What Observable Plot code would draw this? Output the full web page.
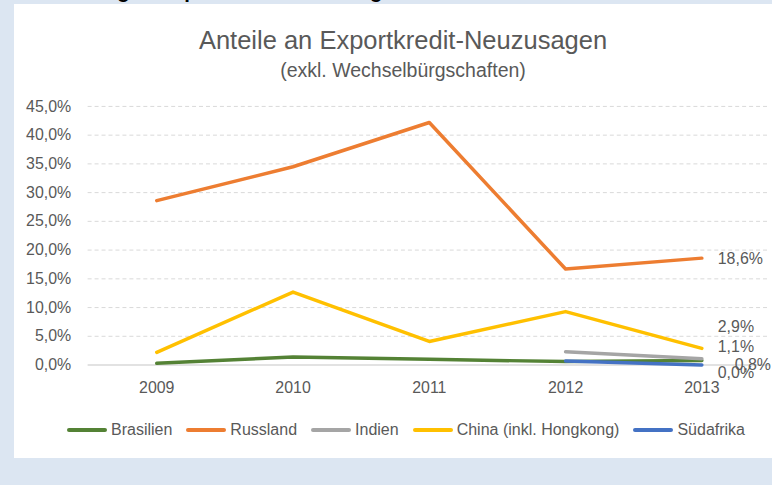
<!DOCTYPE html>
<html>
<head>
<meta charset="utf-8">
<script src="https://cdn.jsdelivr.net/npm/d3@7"></script>
<script src="https://cdn.jsdelivr.net/npm/@observablehq/plot@0.6"></script>
<style>
  html, body { margin: 0; padding: 0; }
  body { width: 772px; height: 485px; overflow: hidden; background: #dce6f2; position: relative; font-family: "Liberation Sans", Arial, sans-serif; }
  #toptext { position: absolute; left: 29px; top: -20px; font-size: 20.4px; font-weight: bold; color: #000; white-space: nowrap; line-height: 22px; }
  #panel { position: absolute; left: 14px; top: 4px; width: 800px; height: 454px; background: #fff; }
  .title { position: absolute; left: 0; width: 806px; text-align: center; color: #595959; white-space: nowrap; }
  #t1 { top: 25px; font-size: 25.5px; line-height: 30px; }
  #t2 { top: 58px; font-size: 19.5px; line-height: 24px; }
  #chart { position: absolute; left: 14px; top: 90px; }
  #legend { position: absolute; left: 67px; top: 420px; display: flex; align-items: center; font-size: 16px; color: #595959; line-height: 20px; white-space: nowrap; }
  .item { display: flex; align-items: center; margin-right: 14px; }
  .sw { width: 40px; height: 4px; border-radius: 2px; margin-right: 4px; }
</style>
</head>
<body>
<div id="toptext">Abbildung 1: Exportkredit-Neuzusagen</div>
<div id="panel"></div>
<div class="title" id="t1">Anteile an Exportkredit-Neuzusagen</div>
<div class="title" id="t2">(exkl. Wechselbürgschaften)</div>
<div id="chart"></div>
<div id="legend"></div>
<script>
const years = ["2009", "2010", "2011", "2012", "2013"];
const brasilien = [0.3, 1.4, 1.0, 0.6, 0.8];
const russland = [28.6, 34.5, 42.2, 16.7, 18.6];
const indien = [null, null, null, 2.3, 1.1];
const china = [2.2, 12.7, 4.1, 9.3, 2.9];
const suedafrika = [null, null, null, 0.7, 0.0];
const seriesNames = ["Brasilien", "Russland", "Indien", "China (inkl. Hongkong)", "Südafrika"];
const seriesValues = [brasilien, russland, indien, china, suedafrika];
const seriesColors = ["#548235", "#ed7d31", "#a5a5a5", "#ffc000", "#4472c4"];
const yTicks = [0, 5, 10, 15, 20, 25, 30, 35, 40, 45];

const rows = [];
seriesNames.forEach((name, i) => {
  seriesValues[i].forEach((v, j) => {
    if (v !== null) rows.push({ series: name, year: years[j], value: v });
  });
});

const fmt = v => v.toFixed(1).replace(".", ",") + "%";

// label offsets (styling, in pixels)
const labelOffsets = {
  "Brasilien": [33, 4],
  "Russland": [16, 1],
  "Indien": [16, -12],
  "China (inkl. Hongkong)": [16, -22],
  "Südafrika": [16, 8]
};
const lastYear = years[years.length - 1];
const labelMarks = seriesNames.map(name => Plot.text(
  rows.filter(d => d.series === name && d.year === lastYear),
  { x: "year", y: "value", text: d => fmt(d.value), textAnchor: "start",
    dx: labelOffsets[name][0], dy: labelOffsets[name][1], fill: "#595959", fontSize: 16 }
));

const chart = Plot.plot({
  width: 762,
  height: 316,
  marginLeft: 74,
  marginRight: 2,
  marginTop: 16,
  marginBottom: 40,
  style: { fontFamily: "Liberation Sans, Arial, sans-serif", background: "transparent", overflow: "visible" },
  x: { type: "point", domain: years, padding: 0.5 },
  y: { domain: [0, 45] },
  color: { domain: seriesNames, range: seriesColors },
  marks: [
    Plot.ruleY(yTicks.filter(t => t > 0), { stroke: "#d9d9d9", strokeDasharray: "4,3", strokeWidth: 1 }),
    Plot.ruleY([0], { stroke: "#d9d9d9", strokeWidth: 1.5 }),
    Plot.axisY({ ticks: yTicks, tickSize: 0, tickPadding: 17, tickFormat: fmt, fontSize: 16, fill: "#595959", label: null }),
    Plot.axisX({ tickSize: 0, tickPadding: 17, fontSize: 16, fill: "#595959", label: null }),
    Plot.lineY(rows, { x: "year", y: "value", stroke: "series", z: "series", strokeWidth: 3.5, strokeLinecap: "round", strokeLinejoin: "round" }),
    ...labelMarks
  ]
});
document.getElementById("chart").appendChild(chart);

const legend = document.getElementById("legend");
seriesNames.forEach((name, i) => {
  const item = document.createElement("div");
  item.className = "item";
  const sw = document.createElement("div");
  sw.className = "sw";
  sw.style.background = seriesColors[i];
  const label = document.createElement("span");
  label.textContent = name;
  item.appendChild(sw);
  item.appendChild(label);
  legend.appendChild(item);
});
</script>
</body>
</html>
